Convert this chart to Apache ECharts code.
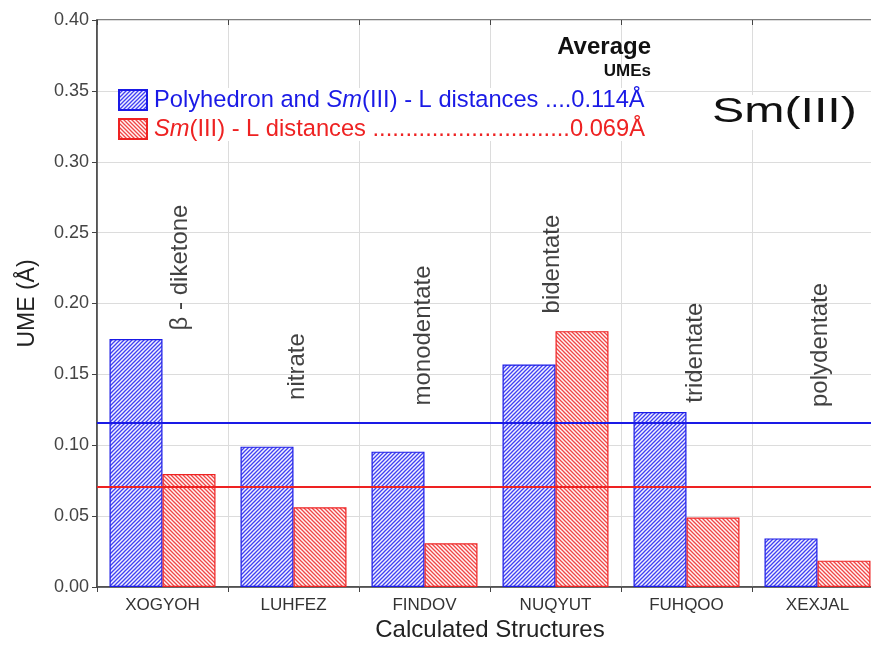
<!DOCTYPE html>
<html>
<head>
<meta charset="utf-8">
<script src="https://cdn.jsdelivr.net/npm/echarts@6/dist/echarts.min.js"></script>
<style>
html,body{margin:0;padding:0;background:#fff;width:871px;height:656px;overflow:hidden;}
#chart{width:884px;height:656px;}
</style>
</head>
<body>
<div id="chart"></div>
<script>
// ---- data ----
var categories = ['XOGYOH', 'LUHFEZ', 'FINDOV', 'NUQYUT', 'FUHQOO', 'XEXJAL'];
var polyValues = [0.175, 0.099, 0.0955, 0.157, 0.1235, 0.0343];
var distValues = [0.0797, 0.0562, 0.0308, 0.1805, 0.049, 0.0186];
var polyMean = 0.116;
var distMean = 0.0705;
var yTicks = { min: 0, max: 0.40, interval: 0.05 };
var ligandNames = ['\u03b2 - diketone', 'nitrate', 'monodentate', 'bidentate', 'tridentate', 'polydentate'];
var ligandX = [0.634, 1.527, 2.489, 3.473, 4.565, 5.519];
var ligandY = [0.181, 0.132, 0.128, 0.193, 0.130, 0.127];
var seriesNames = ['Polyhedron and Sm(III) - L distances ....0.114\u00c5',
                   'Sm(III) - L distances ..............................0.069\u00c5'];

var FONT = '"Liberation Sans", Arial, sans-serif';

function makePattern(color, bg, forward) {
  var s = 4;
  var c = document.createElement('canvas');
  c.width = s; c.height = s;
  var ctx = c.getContext('2d');
  ctx.fillStyle = bg;
  ctx.fillRect(0, 0, s, s);
  ctx.strokeStyle = color;
  ctx.lineWidth = 1.3;
  ctx.beginPath();
  if (forward) {
    ctx.moveTo(0, s); ctx.lineTo(s, 0);
    ctx.moveTo(-1, 1); ctx.lineTo(1, -1);
    ctx.moveTo(s - 1, s + 1); ctx.lineTo(s + 1, s - 1);
  } else {
    ctx.moveTo(0, 0); ctx.lineTo(s, s);
    ctx.moveTo(-1, s - 1); ctx.lineTo(1, s + 1);
    ctx.moveTo(s - 1, -1); ctx.lineTo(s + 1, 1);
  }
  ctx.stroke();
  return { image: c, repeat: 'repeat' };
}

var BLUE = '#1a1ae6';
var RED = '#ee2222';
var blueFill = makePattern('#4040f2', '#f2f2ff', true);
var redFill = makePattern('#f04646', '#fff6f6', false);

var annotData = ligandNames.map(function (n, i) { return [ligandX[i], ligandY[i], n]; });

var chart = echarts.init(document.getElementById('chart'));
chart.setOption({
  animation: false,
  textStyle: { fontFamily: FONT },
  grid: { left: 97, top: 20, right: 1, bottom: 69, show: true, borderColor: '#555', borderWidth: 1.5, backgroundColor: 'transparent' },
  title: [
    { text: 'Average', right: 233, top: 35, padding: 0, textStyle: { fontFamily: FONT, fontSize: 24, fontWeight: 'bold', color: '#111' } },
    { text: 'UMEs', right: 233, top: 63, padding: 0, textStyle: { fontFamily: FONT, fontSize: 17, fontWeight: 'bold', color: '#111' } }
  ],
  graphic: [
    { type: 'text', left: 712, top: 95, scaleX: 1.38, z: 10,
      style: { text: 'Sm(III)', font: '35px ' + FONT, fill: '#111', backgroundColor: '#fff' } }
  ],
  legend: {
    left: 118, top: 88, orient: 'vertical', itemWidth: 28, itemHeight: 20, itemGap: 5,
    icon: 'rect',
    selectedMode: false, backgroundColor: '#fff', padding: 0,
    data: [
      { name: seriesNames[0], textStyle: { color: BLUE } },
      { name: seriesNames[1], textStyle: { color: RED } }
    ],
    formatter: function (name) {
      if (name === seriesNames[0]) return '{n|Polyhedron and }{i|Sm}{n|(III) - L distances ....0.114\u00c5}';
      return '{i|Sm}{n|(III) - L distances ..............................0.069\u00c5}';
    },
    textStyle: {
      fontFamily: FONT, fontSize: 23.7, padding: [0, 0, 0, 2],
      rich: {
        n: { fontFamily: FONT, fontSize: 23.7 },
        i: { fontFamily: FONT, fontSize: 23.7, fontStyle: 'italic' }
      }
    }
  },
  xAxis: [
    {
      type: 'category', data: categories, position: 'bottom',
      axisLine: { lineStyle: { color: '#444', width: 1.5 } },
      axisTick: { show: true, length: 5, lineStyle: { color: '#444' } },
      axisLabel: { fontFamily: FONT, fontSize: 17, color: '#333', margin: 10 },
      splitLine: { show: true, lineStyle: { color: '#dcdcdc', width: 1 } },
      name: 'Calculated Structures', nameLocation: 'middle', nameGap: 31, nameMoveOverlap: false,
      nameTextStyle: { fontFamily: FONT, fontSize: 24, color: '#222' }
    },
    {
      type: 'category', data: categories, position: 'top',
      axisLine: { show: false },
      axisTick: { show: true, inside: true, length: 5, lineStyle: { color: '#444' } },
      axisLabel: { show: false }, splitLine: { show: false }
    },
    {
      type: 'value', min: 0, max: categories.length, show: false
    }
  ],
  yAxis: {
    type: 'value', min: yTicks.min, max: yTicks.max, interval: yTicks.interval,
    axisLine: { show: true, lineStyle: { color: '#444', width: 1.5 } },
    axisTick: { show: true, length: 5, lineStyle: { color: '#444' } },
    axisLabel: { fontFamily: FONT, fontSize: 18, color: '#444', margin: 8,
      formatter: function (v) { return v.toFixed(2); } },
    splitLine: { show: true, lineStyle: { color: '#dcdcdc', width: 1 } },
    name: 'UME (\u00c5)', nameLocation: 'middle', nameGap: 58, nameMoveOverlap: false,
    nameTextStyle: { fontFamily: FONT, fontSize: 23, color: '#222' }
  },
  series: [
    {
      name: seriesNames[0], type: 'bar', data: polyValues, barWidth: 53, barGap: '0%',
      itemStyle: { color: blueFill, borderColor: BLUE, borderWidth: 1.2 },
      markLine: { silent: true, symbol: 'none', precision: 4, label: { show: false },
        lineStyle: { color: BLUE, width: 2, type: 'solid' }, data: [{ yAxis: polyMean }] }
    },
    {
      name: seriesNames[1], type: 'bar', data: distValues, barWidth: 53, barGap: '0%',
      itemStyle: { color: redFill, borderColor: RED, borderWidth: 1.2 },
      markLine: { silent: true, symbol: 'none', precision: 4, label: { show: false },
        lineStyle: { color: RED, width: 2, type: 'solid' }, data: [{ yAxis: distMean }] }
    },
    {
      name: 'ligands', type: 'scatter', xAxisIndex: 2, yAxisIndex: 0, symbolSize: 0, silent: true,
      data: annotData, z: 5,
      label: {
        show: true, position: 'inside', rotate: 90, align: 'left', verticalAlign: 'middle',
        fontFamily: FONT, fontSize: 24, color: '#111',
        formatter: function (p) { return p.data[2]; }
      }
    }
  ]
});
</script>
</body>
</html>
